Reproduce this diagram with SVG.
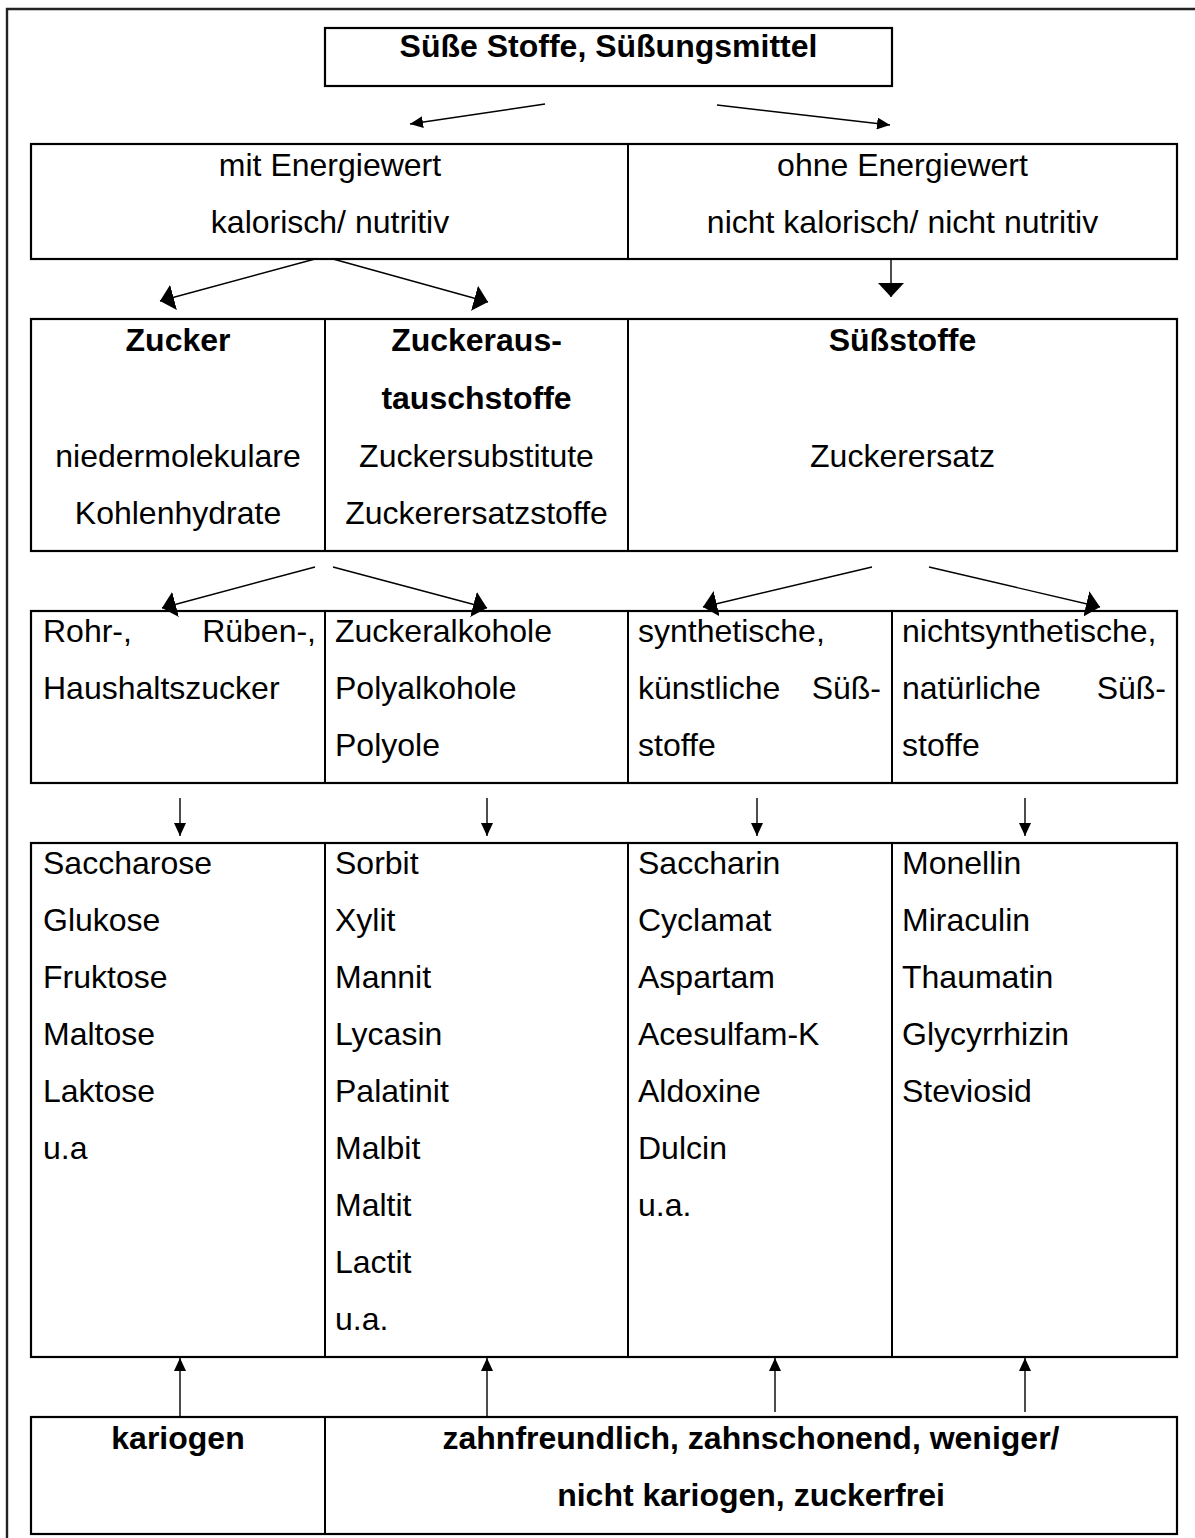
<svg xmlns="http://www.w3.org/2000/svg" width="1195" height="1538" viewBox="0 0 1195 1538">
<style>
  text { font-family: "Liberation Sans", Arial, sans-serif; font-size: 32px; fill: #000; }
  .b { font-weight: bold; }
  .c { text-anchor: middle; }
  .e { text-anchor: end; }
  .box { fill: #fff; stroke: #000; stroke-width: 2.2; }
  .div { stroke: #000; stroke-width: 2; }
  .con { stroke: #000; stroke-width: 1.4; fill: none; }
</style>
<defs>
  <marker id="hs" markerUnits="userSpaceOnUse" viewBox="0 0 13 12" refX="13" refY="6" markerWidth="13" markerHeight="12" orient="auto">
    <path d="M0,0 L13,6 L0,12 z" fill="#000"/>
  </marker>
  <marker id="hb" markerUnits="userSpaceOnUse" viewBox="0 0 14 26" refX="14" refY="13" markerWidth="14" markerHeight="26" orient="auto">
    <path d="M0,0 L14,13 L0,26 z" fill="#000"/>
  </marker>
</defs>
<rect x="0" y="0" width="1195" height="1538" fill="#fff"/>
<path d="M7,1538 V9 H1195" fill="none" stroke="#222" stroke-width="2.4"/>

<g id="title">
  <rect class="box" x="325" y="28" width="567" height="58"/>
  <text class="b c" x="608.5" y="57">Süße Stoffe, Süßungsmittel</text>
</g>

<g id="energie">
  <rect class="box" x="31" y="144" width="1146" height="115"/>
  <line class="div" x1="628" y1="144" x2="628" y2="259"/>
  <g id="mit">
    <text class="c" x="330" y="176">mit Energiewert</text>
    <text class="c" x="330" y="233">kalorisch/ nutritiv</text>
  </g>
  <g id="ohne">
    <text class="c" x="902.5" y="176">ohne Energiewert</text>
    <text class="c" x="902.5" y="233">nicht kalorisch/ nicht nutritiv</text>
  </g>
</g>

<g id="gruppen">
  <rect class="box" x="31" y="319" width="1146" height="232"/>
  <line class="div" x1="325" y1="319" x2="325" y2="551"/>
  <line class="div" x1="628" y1="319" x2="628" y2="551"/>
  <g id="zucker">
    <text class="b c" x="178" y="351">Zucker</text>
    <text class="c" x="178" y="467">niedermolekulare</text>
    <text class="c" x="178" y="524">Kohlenhydrate</text>
  </g>
  <g id="zaustausch">
    <text class="b c" x="476.5" y="351">Zuckeraus-</text>
    <text class="b c" x="476.5" y="409">tauschstoffe</text>
    <text class="c" x="476.5" y="467">Zuckersubstitute</text>
    <text class="c" x="476.5" y="524">Zuckerersatzstoffe</text>
  </g>
  <g id="suessstoffe">
    <text class="b c" x="902.5" y="351">Süßstoffe</text>
    <text class="c" x="902.5" y="467">Zuckerersatz</text>
  </g>
</g>

<g id="arten">
  <rect class="box" x="31" y="611" width="1146" height="172"/>
  <line class="div" x1="325" y1="611" x2="325" y2="783"/>
  <line class="div" x1="628" y1="611" x2="628" y2="783"/>
  <line class="div" x1="892" y1="611" x2="892" y2="783"/>
  <g id="rohr">
    <text x="43" y="642">Rohr-,</text>
    <text class="e" x="316" y="642">Rüben-,</text>
    <text x="43" y="699">Haushaltszucker</text>
  </g>
  <g id="alkohole">
    <text x="335" y="642">Zuckeralkohole</text>
    <text x="335" y="699">Polyalkohole</text>
    <text x="335" y="756">Polyole</text>
  </g>
  <g id="synth">
    <text x="638" y="642">synthetische,</text>
    <text x="638" y="699">künstliche</text>
    <text class="e" x="881" y="699">Süß-</text>
    <text x="638" y="756">stoffe</text>
  </g>
  <g id="nichtsynth">
    <text x="902" y="642">nichtsynthetische,</text>
    <text x="902" y="699">natürliche</text>
    <text class="e" x="1166" y="699">Süß-</text>
    <text x="902" y="756">stoffe</text>
  </g>
</g>

<g id="beispiele">
  <rect class="box" x="31" y="843" width="1146" height="514"/>
  <line class="div" x1="325" y1="843" x2="325" y2="1357"/>
  <line class="div" x1="628" y1="843" x2="628" y2="1357"/>
  <line class="div" x1="892" y1="843" x2="892" y2="1357"/>
  <g id="liste-zucker">
    <text x="43" y="874">Saccharose</text>
    <text x="43" y="931">Glukose</text>
    <text x="43" y="988">Fruktose</text>
    <text x="43" y="1045">Maltose</text>
    <text x="43" y="1102">Laktose</text>
    <text x="43" y="1159">u.a</text>
  </g>
  <g id="liste-alkohole">
    <text x="335" y="874">Sorbit</text>
    <text x="335" y="931">Xylit</text>
    <text x="335" y="988">Mannit</text>
    <text x="335" y="1045">Lycasin</text>
    <text x="335" y="1102">Palatinit</text>
    <text x="335" y="1159">Malbit</text>
    <text x="335" y="1216">Maltit</text>
    <text x="335" y="1273">Lactit</text>
    <text x="335" y="1330">u.a.</text>
  </g>
  <g id="liste-synth">
    <text x="638" y="874">Saccharin</text>
    <text x="638" y="931">Cyclamat</text>
    <text x="638" y="988">Aspartam</text>
    <text x="638" y="1045">Acesulfam-K</text>
    <text x="638" y="1102">Aldoxine</text>
    <text x="638" y="1159">Dulcin</text>
    <text x="638" y="1216">u.a.</text>
  </g>
  <g id="liste-natur">
    <text x="902" y="874">Monellin</text>
    <text x="902" y="931">Miraculin</text>
    <text x="902" y="988">Thaumatin</text>
    <text x="902" y="1045">Glycyrrhizin</text>
    <text x="902" y="1102">Steviosid</text>
  </g>
</g>

<g id="karies">
  <rect class="box" x="31" y="1417" width="1146" height="117"/>
  <line class="div" x1="325" y1="1417" x2="325" y2="1534"/>
  <g id="kariogen">
    <text class="b c" x="178" y="1449">kariogen</text>
  </g>
  <g id="zahnfreundlich">
    <text class="b c" x="751" y="1449">zahnfreundlich, zahnschonend, weniger/</text>
    <text class="b c" x="751" y="1506">nicht kariogen, zuckerfrei</text>
  </g>
</g>

<g id="connectors">
  <line class="con" x1="545" y1="104" x2="410" y2="124" marker-end="url(#hs)"/>
  <line class="con" x1="717" y1="105" x2="890" y2="125" marker-end="url(#hs)"/>

  <line class="con" x1="315" y1="259" x2="160" y2="301" marker-end="url(#hb)"/>
  <line class="con" x1="333" y1="259" x2="488" y2="302" marker-end="url(#hb)"/>
  <line class="con" x1="891" y1="259" x2="891" y2="297" marker-end="url(#hb)"/>

  <line class="con" x1="315" y1="567" x2="162" y2="608" marker-end="url(#hb)"/>
  <line class="con" x1="333" y1="567" x2="487" y2="608" marker-end="url(#hb)"/>
  <line class="con" x1="872" y1="567" x2="703" y2="607" marker-end="url(#hb)"/>
  <line class="con" x1="929" y1="567" x2="1100" y2="607" marker-end="url(#hb)"/>

  <line class="con" x1="180" y1="798" x2="180" y2="836" marker-end="url(#hs)"/>
  <line class="con" x1="487" y1="798" x2="487" y2="836" marker-end="url(#hs)"/>
  <line class="con" x1="757" y1="798" x2="757" y2="836" marker-end="url(#hs)"/>
  <line class="con" x1="1025" y1="798" x2="1025" y2="836" marker-end="url(#hs)"/>

  <line class="con" x1="180" y1="1416" x2="180" y2="1358" marker-end="url(#hs)"/>
  <line class="con" x1="487" y1="1416" x2="487" y2="1358" marker-end="url(#hs)"/>
  <line class="con" x1="775" y1="1412" x2="775" y2="1358" marker-end="url(#hs)"/>
  <line class="con" x1="1025" y1="1412" x2="1025" y2="1358" marker-end="url(#hs)"/>
</g>
</svg>
